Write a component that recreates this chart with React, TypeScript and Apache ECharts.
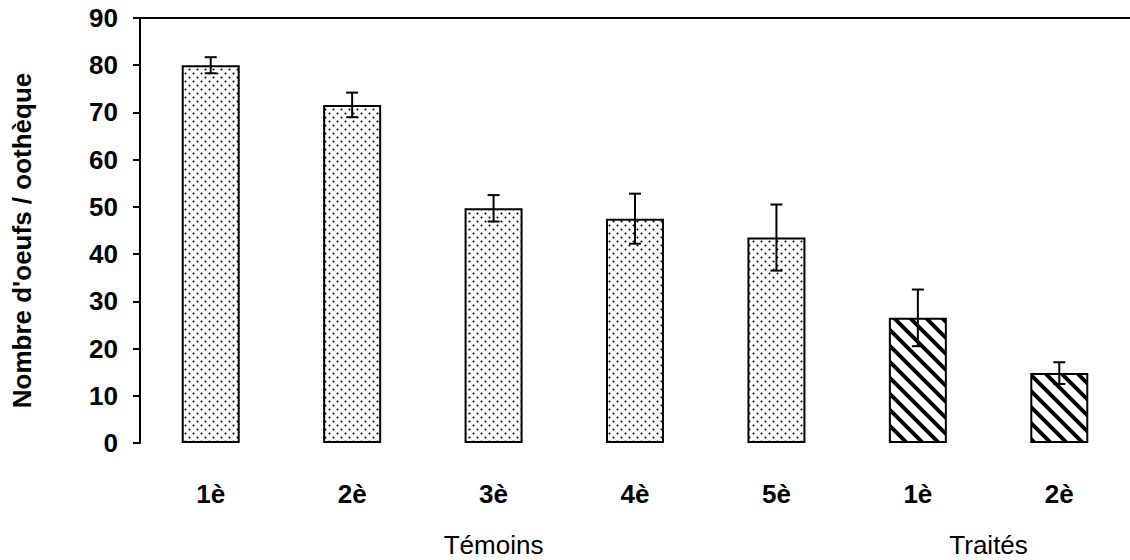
import React, { useEffect, useRef } from "react";
import * as echarts from "echarts";

const categories = ["1è", "2è", "3è", "4è", "5è", "1è", "2è"];
const means = [80, 71.6, 49.7, 47.5, 43.5, 26.5, 14.8];
const errors = [1.7, 2.6, 2.8, 5.3, 7.0, 6.0, 2.3];
const groupOf = ["Témoins", "Témoins", "Témoins", "Témoins", "Témoins", "Traités", "Traités"];
const groupLabels = ["Témoins", "Traités"];
const yTicks = { min: 0, max: 90, interval: 10 };
const yName = "Nombre d'oeufs / oothèque";

const FONT = "'Liberation Sans', Arial, sans-serif";

function makeDots(): HTMLCanvasElement {
  const c = document.createElement("canvas");
  c.width = 8;
  c.height = 8;
  const g = c.getContext("2d")!;
  g.fillStyle = "#ffffff";
  g.fillRect(0, 0, 8, 8);
  g.fillStyle = "#000000";
  g.beginPath();
  g.arc(1.5, 1.5, 1.05, 0, Math.PI * 2);
  g.closePath();
  g.arc(5.5, 5.5, 1.05, 0, Math.PI * 2);
  g.closePath();
  g.fill();
  return c;
}

function makeHatch(): HTMLCanvasElement {
  const s = 16;
  const c = document.createElement("canvas");
  c.width = s;
  c.height = s;
  const g = c.getContext("2d")!;
  g.fillStyle = "#ffffff";
  g.fillRect(0, 0, s, s);
  g.strokeStyle = "#000000";
  g.lineWidth = 4;
  for (const off of [-s, 0, s]) {
    g.beginPath();
    g.moveTo(off - 2, -2);
    g.lineTo(off + s + 2, s + 2);
    g.stroke();
  }
  return c;
}

export default function App() {
  const ref = useRef<HTMLDivElement>(null);

  useEffect(() => {
    if (!ref.current) return;
    const chart = echarts.init(ref.current, undefined, { renderer: "svg" });
    const dots = makeDots();
    const hatch = makeHatch();

    const barData = means.map((v, i) => ({
      value: v,
      itemStyle: {
        color: { image: groupOf[i] === "Témoins" ? dots : hatch, repeat: "repeat" },
        borderColor: "#000",
        borderWidth: 2,
      },
    }));

    const errData = means.map((v, i) => [i, v - errors[i], v + errors[i]]);

    chart.setOption({
      animation: false,
      grid: { left: 140, top: 18, width: 996, height: 425 },
      xAxis: [
        {
          type: "category",
          data: categories,
          position: "bottom",
          axisLine: { show: false },
          axisTick: { show: false },
          axisLabel: {
            margin: 38,
            color: "#000",
            fontFamily: FONT,
            fontWeight: "bold",
            fontSize: 26,
          },
        },
        {
          type: "category",
          data: categories,
          position: "top",
          axisLine: { show: true, lineStyle: { color: "#000", width: 2 } },
          axisTick: { show: false },
          axisLabel: { show: false },
        },
      ],
      yAxis: {
        type: "value",
        min: yTicks.min,
        max: yTicks.max,
        interval: yTicks.interval,
        name: yName,
        nameLocation: "middle",
        nameGap: 105,
        nameTextStyle: {
          color: "#000",
          fontFamily: FONT,
          fontWeight: "bold",
          fontSize: 26,
          padding: [0, 20, 0, 0],
        },
        splitLine: { show: false },
        axisLine: { show: true, lineStyle: { color: "#000", width: 2 } },
        axisTick: { show: true, length: 7, lineStyle: { color: "#000", width: 2 } },
        axisLabel: {
          margin: 22,
          color: "#000",
          fontFamily: FONT,
          fontWeight: "bold",
          fontSize: 26,
        },
      },
      series: [
        {
          type: "bar",
          data: barData,
          barWidth: 58,
        },
        {
          type: "custom",
          data: errData,
          z: 10,
          renderItem: (params: any, api: any) => {
            const i = api.value(0);
            const lo = api.coord([i, api.value(1)]);
            const hi = api.coord([i, api.value(2)]);
            const half = 6;
            const style = { stroke: "#000", lineWidth: 2 };
            return {
              type: "group",
              children: [
                { type: "line", shape: { x1: hi[0], y1: hi[1], x2: lo[0], y2: lo[1] }, style },
                { type: "line", shape: { x1: hi[0] - half, y1: hi[1], x2: hi[0] + half, y2: hi[1] }, style },
                { type: "line", shape: { x1: lo[0] - half, y1: lo[1], x2: lo[0] + half, y2: lo[1] }, style },
              ],
            };
          },
        },
      ],
    });

    const px = (idx: number) => chart.convertToPixel({ xAxisIndex: 0 }, idx) as number;
    const centers = groupLabels.map((g) => {
      const idxs = groupOf.map((gg, i) => (gg === g ? i : -1)).filter((i) => i >= 0);
      return (px(idxs[0]) + px(idxs[idxs.length - 1])) / 2;
    });
    const yBase = chart.convertToPixel({ yAxisIndex: 0 }, 0) as number;

    chart.setOption({
      graphic: groupLabels.map((g, k) => ({
        type: "text",
        x: centers[k],
        y: yBase + 115,
        style: {
          text: g,
          fill: "#000",
          font: `26px ${FONT}`,
          align: "center",
          verticalAlign: "bottom",
        },
      })),
    });

    return () => chart.dispose();
  }, []);

  return (
    <div
      ref={ref}
      style={{ position: "fixed", left: 0, top: 0, width: 1130, height: 560, background: "#fff", overflow: "hidden" }}
    />
  );
}
